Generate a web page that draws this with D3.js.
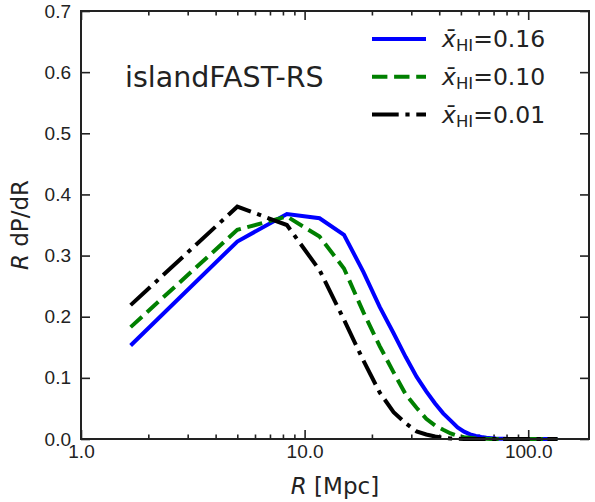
<!DOCTYPE html>
<html lang="en">
<head>
<meta charset="UTF-8">
<title>islandFAST-RS</title>
<script src="https://d3js.org/d3.v7.min.js"></script>
<style>
    body { margin: 0; background: #fff; }
    svg { font-family: "DejaVu Sans", sans-serif; }
    .tick text { fill: #222; }
    .tick line { stroke: #222; stroke-width: 1.6; }
</style>
</head>
<body>
<div id="chart"></div>
<script>
// bin centres in Mpc
const radius = [1.667, 5.0, 8.333, 11.667, 15.0, 18.333, 21.667, 25.0, 28.333, 31.667,
    35.0, 38.333, 41.667, 45.0, 48.333, 51.667, 55.0, 58.333, 61.667, 65.0,
    68.333, 71.667, 75.0, 78.333, 81.667, 85.0, 88.333, 91.667, 95.0, 98.333,
    101.667, 105.0, 108.333, 111.667, 115.0, 118.333, 121.667, 125.0, 128.333, 131.667, 135.0];

const xhi016 = [0.153, 0.323, 0.368, 0.361, 0.334, 0.273, 0.216, 0.173, 0.134, 0.102,
    0.078, 0.058, 0.042, 0.030, 0.019, 0.012, 0.0075, 0.005, 0.0032, 0.002,
    0.0013, 0.0008, 0.0005, 0.0003, 0.0002, 0.0001, 0.0001, 0, 0, 0,
    0, 0, 0, 0, 0, 0, 0, 0, 0, 0, 0];
const xhi010 = [0.183, 0.342, 0.364, 0.331, 0.279, 0.207, 0.152, 0.109, 0.073, 0.051,
    0.033, 0.022, 0.015, 0.009, 0.005, 0.003, 0.002, 0.001, 0.0006, 0.0003,
    0.0002, 0.0001, 0, 0, 0, 0, 0, 0, 0, 0,
    0, 0, 0, 0, 0, 0, 0, 0, 0, 0, 0];
const xhi001 = [0.219, 0.380, 0.350, 0.276, 0.195, 0.128, 0.076, 0.044, 0.0255, 0.0125,
    0.0074, 0.004, 0.002, 0.001, 0.0005, 0.0002, 0.0001, 0, 0, 0,
    0, 0, 0, 0, 0, 0, 0, 0, 0, 0,
    0, 0, 0, 0, 0, 0, 0, 0, 0, 0, 0];

const xMajor = [1, 10, 100];
const xMinor = [2, 3, 4, 5, 6, 7, 8, 9, 20, 30, 40, 50, 60, 70, 80, 90];
const yTicks = [0, 0.1, 0.2, 0.3, 0.4, 0.5, 0.6, 0.7];

const series = [
    {label: "0.16", values: xhi016, color: "#0000ff", dash: null},
    {label: "0.10", values: xhi010, color: "#008000", dash: "15.4,6.7"},
    {label: "0.01", values: xhi001, color: "#000000", dash: "26.7,6.7,4.2,6.7"}
];

const W = 595, H = 502;
const margin = {top: 11, right: 6, bottom: 63, left: 81};
const width = W - margin.left - margin.right;
const height = H - margin.top - margin.bottom;

const x = d3.scaleLog().domain([1, 187]).range([0, width]);
const y = d3.scaleLinear().domain([0, 0.7]).range([height, 0]);

const svg = d3.select("#chart").append("svg")
    .attr("width", W).attr("height", H)
    .append("g")
    .attr("transform", `translate(${margin.left},${margin.top})`);

const fmt = d3.format(".1f");

// bottom
svg.append("g").attr("transform", `translate(0,${height})`)
    .call(d3.axisBottom(x).tickValues(xMajor).tickFormat(fmt).tickSize(-9).tickSizeOuter(0).tickPadding(6))
    .call(g => g.selectAll("text").attr("font-size", 19))
    .call(g => g.select(".domain").remove());
svg.append("g").attr("transform", `translate(0,${height})`)
    .call(d3.axisBottom(x).tickValues(xMinor).tickFormat("").tickSize(-4.5).tickSizeOuter(0))
    .call(g => g.select(".domain").remove());
// top
svg.append("g")
    .call(d3.axisTop(x).tickValues(xMajor).tickFormat("").tickSize(-9).tickSizeOuter(0))
    .call(g => g.select(".domain").remove());
svg.append("g")
    .call(d3.axisTop(x).tickValues(xMinor).tickFormat("").tickSize(-4.5).tickSizeOuter(0))
    .call(g => g.select(".domain").remove());
// left
svg.append("g")
    .call(d3.axisLeft(y).tickValues(yTicks).tickFormat(fmt).tickSize(-9).tickSizeOuter(0).tickPadding(10))
    .call(g => g.selectAll("text").attr("font-size", 19))
    .call(g => g.select(".domain").remove());
// right
svg.append("g").attr("transform", `translate(${width},0)`)
    .call(d3.axisRight(y).tickValues(yTicks).tickFormat("").tickSize(-9).tickSizeOuter(0))
    .call(g => g.select(".domain").remove());

const line = d3.line()
    .x((d, i) => x(radius[i]))
    .y(d => y(d));

series.forEach(s => {
    svg.append("path")
        .datum(s.values)
        .attr("fill", "none")
        .attr("stroke", s.color)
        .attr("stroke-width", 4)
        .attr("stroke-dasharray", s.dash)
        .attr("d", line);
});

svg.append("rect")
    .attr("width", width).attr("height", height)
    .attr("fill", "none").attr("stroke", "#222").attr("stroke-width", 2);

// legend
const leg = svg.append("g").attr("transform", "translate(291,28)");
series.forEach((s, i) => {
    const row = leg.append("g").attr("transform", `translate(0,${i * 37.8})`);
    row.append("line")
        .attr("x1", 0).attr("x2", 54)
        .attr("stroke", s.color).attr("stroke-width", 4)
        .attr("stroke-dasharray", s.dash);
    const t = row.append("text").attr("x", 70).attr("y", 8)
        .attr("font-size", 23.5).attr("fill", "#222");
    t.append("tspan").attr("font-style", "italic").text("x\u0304");
    t.append("tspan").attr("font-size", 16.5).attr("dy", 4).text("HI");
    t.append("tspan").attr("dy", -4).text("=" + s.label);
});

svg.append("text")
    .attr("x", 44).attr("y", 76)
    .attr("font-size", 28.5).attr("fill", "#222")
    .text("islandFAST-RS");

// axis titles
svg.append("text")
    .attr("x", width / 2).attr("y", height + 55)
    .attr("text-anchor", "middle").attr("font-size", 23).attr("fill", "#222")
    .call(t => {
        t.append("tspan").attr("font-style", "italic").text("R");
        t.append("tspan").text(" [Mpc]");
    });
svg.append("text")
    .attr("transform", `translate(${-81 + 28},${height / 2}) rotate(-90)`)
    .attr("text-anchor", "middle").attr("font-size", 23).attr("fill", "#222")
    .call(t => {
        t.append("tspan").attr("font-style", "italic").text("R");
        t.append("tspan").text(" dP/dR");
    });
</script>
</body>
</html>
